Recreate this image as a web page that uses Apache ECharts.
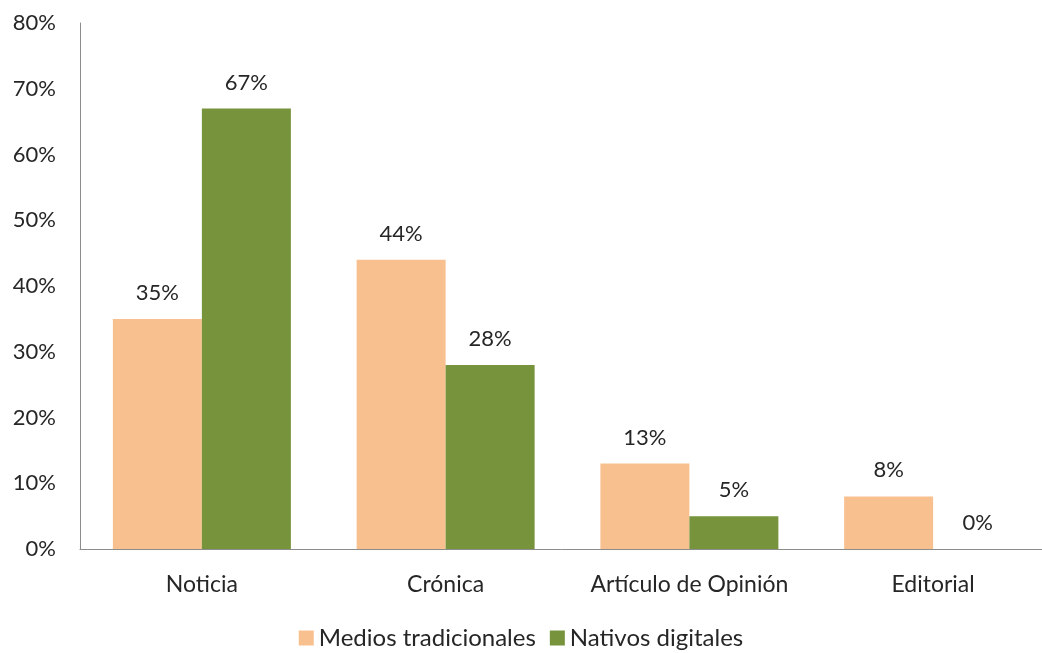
<!DOCTYPE html>
<html><head><meta charset="utf-8">
<script src="https://cdn.jsdelivr.net/npm/echarts@6/dist/echarts.min.js"></script>
<style>html,body{margin:0;padding:0;background:#fff}#c{width:1042px;height:653px}</style>
</head><body><div id="c"></div>
<script>
const categories = ['Noticia', 'Crónica', 'Artículo de Opinión', 'Editorial'];
const mediosTradicionales = [35, 44, 13, 8];
const nativosDigitales = [67, 28, 5, 0];
const seriesNames = ['Medios tradicionales', 'Nativos digitales'];
const yTicks = [0, 10, 20, 30, 40, 50, 60, 70, 80];

const font = 'Lato';
const txt = '#262626';
const chart = echarts.init(document.getElementById('c'), null, {renderer: 'canvas'});
const lbl = {show: true, position: 'top', distance: 15, formatter: p => p.value + '%', color: txt, fontFamily: font, fontSize: 22};
chart.setOption({
  animation: false,
  grid: {left: 80, top: 23, right: -13, height: 526, containLabel: false, outerBoundsMode: 'none'},
  legend: {
    bottom: -2, left: 'center', itemWidth: 15, itemHeight: 15, itemGap: 14,
    icon: 'rect',
    textStyle: {color: txt, fontFamily: font, fontSize: 24},
    data: seriesNames
  },
  xAxis: {
    type: 'category', data: categories,
    axisLine: {lineStyle: {color: '#8c8c8c', width: 1}},
    axisTick: {show: false},
    axisLabel: {color: txt, fontFamily: font, fontSize: 23, margin: 24, interval: 0, hideOverlap: false}
  },
  yAxis: {
    type: 'value', min: yTicks[0], max: yTicks[yTicks.length - 1], interval: 10,
    axisLine: {show: true, lineStyle: {color: '#8c8c8c', width: 1}},
    axisTick: {show: false},
    splitLine: {show: false},
    axisLabel: {color: txt, fontFamily: font, fontSize: 22, margin: 24, formatter: v => v + '%'}
  },
  series: [
    {name: seriesNames[0], type: 'bar', data: mediosTradicionales, barWidth: 89, barGap: '0%', itemStyle: {color: '#F9C08F'}, label: lbl},
    {name: seriesNames[1], type: 'bar', data: nativosDigitales, barWidth: 89, barGap: '0%', itemStyle: {color: '#77933C'}, label: lbl}
  ]
});
</script></body></html>
